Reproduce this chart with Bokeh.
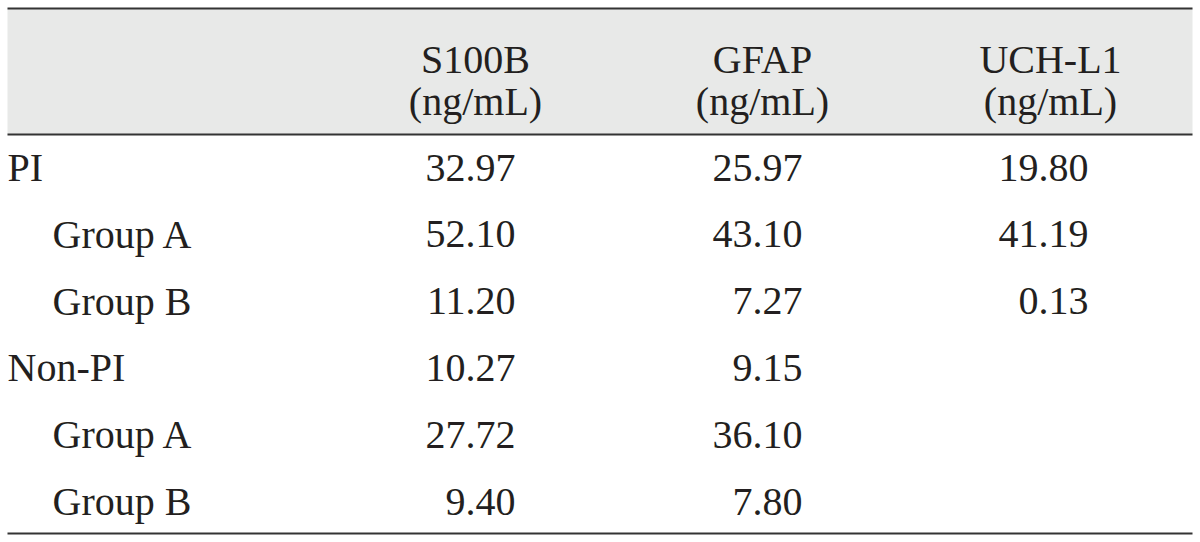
from bokeh.plotting import figure
from bokeh.models import Range1d
from bokeh.core.properties import value
from bokeh.embed import file_html
from bokeh.resources import INLINE

# ---- data ----
row_labels = ["PI", "Group A", "Group B", "Non-PI", "Group A", "Group B"]
row_indent = [0, 1, 1, 0, 1, 1]
col_names = ["S100B", "GFAP", "UCH-L1"]
col_units = ["(ng/mL)", "(ng/mL)", "(ng/mL)"]
s100b = [32.97, 52.10, 11.20, 10.27, 27.72, 9.40]
gfap = [25.97, 43.10, 7.27, 9.15, 36.10, 7.80]
uchl1 = [19.80, 41.19, 0.13, None, None, None]

# ---- layout (picture pixel coordinates) ----
W, H = 1200, 542
FONT = "Liberation Serif"
FS = "40px"
TXT = "#231f20"

p = figure(width=W, height=H, output_backend="svg", toolbar_location=None,
           x_range=Range1d(0, W), y_range=Range1d(H, 0),
           min_border=0)
p.axis.visible = False
p.grid.visible = False
p.outline_line_color = None
p.background_fill_color = "white"

# header band
p.quad(left=[7], right=[1192], top=[8], bottom=[134], fill_color="#e8e9e8", line_color=None)
# rules
p.segment(x0=[7, 7, 7], x1=[1192, 1192, 1192], y0=[8, 134, 533], y1=[8, 134, 533],
          line_color="#333333", line_width=2)

# header text
col_center = [475, 762, 1050]
col_right = [515, 802, 1088]
p.text(x=col_center, y=[59] * 3, text=col_names, text_font=value(FONT), text_font_size=FS,
       text_color=TXT, text_align="center", text_baseline="alphabetic")
p.text(x=col_center, y=[101] * 3, text=col_units, text_font=value(FONT), text_font_size=FS,
       text_color=TXT, text_align="center", text_baseline="alphabetic")

# rows
baselines = [167 + i * 66.8 for i in range(len(row_labels))]
label_x = [7 + 45 * ind for ind in row_indent]
p.text(x=label_x, y=baselines, text=row_labels, text_font=value(FONT), text_font_size=FS,
       text_color=TXT, text_align="left", text_baseline="alphabetic")

for ci, series in enumerate([s100b, gfap, uchl1]):
    xs, ys, ts = [], [], []
    for ri, v in enumerate(series):
        if v is None:
            continue
        xs.append(col_right[ci])
        ys.append(baselines[ri])
        ts.append(f"{v:.2f}")
    p.text(x=xs, y=ys, text=ts, text_font=value(FONT), text_font_size=FS,
           text_color=TXT, text_align="right", text_baseline="alphabetic")

open("out.html", "w").write(file_html(p, INLINE))
